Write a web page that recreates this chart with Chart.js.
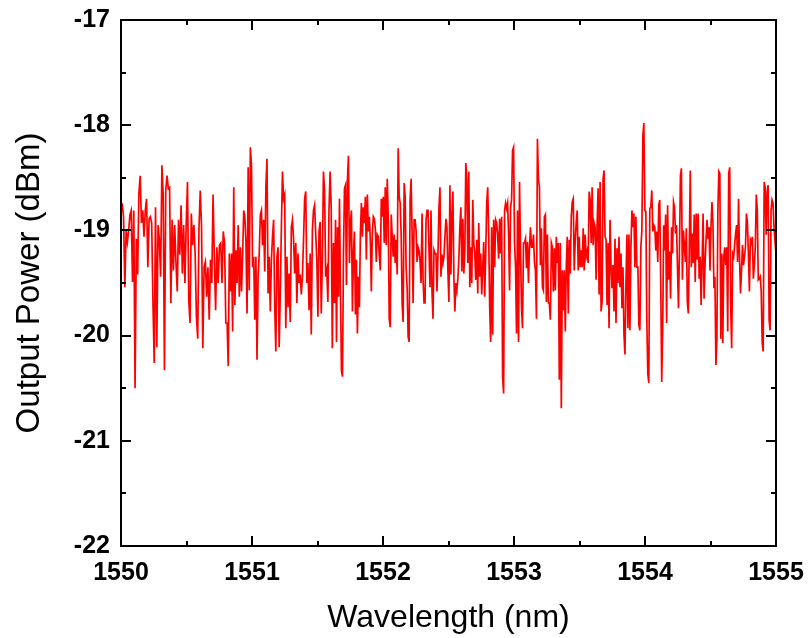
<!DOCTYPE html>
<html>
<head>
<meta charset="utf-8">
<script src="https://cdn.jsdelivr.net/npm/chart.js@4"></script>
<style>
  html, body { margin: 0; padding: 0; background: #fff; }
  #wrap { width: 811px; height: 638px; }
</style>
</head>
<body>
<div id="wrap"><canvas id="grafico" width="811" height="638"></canvas></div>
<script>
// output power (dBm), split by wavelength stretch
const segBounds = [1550, 1550.81, 1551.63, 1552.45, 1553.27, 1554.09, 1555];

const power1 = [-18.78,-18.76,-18.87,-19.54,-19.00,-19.11,-19.00,-18.85,-18.81,-19.49,-18.81,-20.50,-19.08,-19.42,-18.65,-18.48,-18.93,-18.81,-19.06,-18.81,-18.70,-19.35,-18.89,-18.87,-18.93,-19.69,-20.26,-18.78,-20.11,-18.95,-19.09,-19.44,-18.38,-18.66,-20.33,-18.62,-18.48,-18.60,-18.59,-19.69,-18.90,-19.38,-18.95,-19.31,-19.58,-18.90,-19.23,-18.76,-19.41,-18.95,-19.50,-18.95,-18.54,-19.66,-19.88,-18.84,-19.14,-18.95,-19.22,-19.82,-20.03,-18.97,-18.62,-18.97,-20.12,-19.35,-19.30,-19.63,-19.35,-19.85,-19.28,-19.50,-18.66,-19.25,-19.76,-19.16,-19.50,-19.14,-19.12,-19.50,-19.01,-19.12,-19.88];

const power2 = [-19.88,-20.29,-19.22,-19.58,-19.22,-19.96,-18.59,-19.71,-19.19,-19.50,-18.95,-19.63,-19.16,-19.58,-19.23,-18.81,-18.87,-19.11,-19.79,-18.40,-19.57,-18.21,-18.38,-19.35,-19.25,-19.85,-19.25,-20.23,-19.44,-19.22,-18.85,-18.81,-19.14,-18.90,-19.39,-18.59,-18.32,-19.60,-19.25,-19.77,-19.28,-19.06,-18.90,-19.73,-20.15,-19.25,-19.16,-20.11,-19.60,-18.97,-18.44,-18.70,-18.66,-19.93,-19.25,-19.73,-19.41,-19.87,-18.97,-18.90,-19.08,-19.41,-19.12,-19.69,-19.22,-19.50,-19.42,-19.61,-19.44,-19.09,-18.70,-18.63,-19.50,-19.31,-19.76,-19.22,-19.99,-19.00,-18.81,-18.76,-19.03,-19.28,-19.82,-19.01,-18.92,-19.79,-19.28,-18.44,-18.62,-19.44,-19.38,-19.68,-18.81,-18.44,-18.78,-20.12,-19.12];

const power3 = [-19.69,-18.90,-20.06,-18.97,-19.63,-18.70,-19.63,-20.34,-20.39,-19.22,-18.60,-18.57,-19.52,-18.52,-18.29,-19.31,-18.93,-18.81,-19.77,-19.23,-19.01,-19.80,-19.28,-19.98,-19.44,-19.73,-19.03,-18.74,-19.06,-18.78,-18.93,-18.68,-19.28,-18.66,-19.01,-18.87,-19.09,-19.58,-19.03,-18.87,-18.89,-18.98,-19.30,-19.04,-19.06,-19.23,-19.38,-18.70,-18.87,-18.68,-19.12,-18.59,-19.14,-18.51,-18.87,-19.84,-19.92,-18.85,-19.06,-19.25,-19.04,-19.31,-19.09,-19.42,-18.22,-18.68,-18.74,-19.04,-19.71,-19.87,-18.55,-18.68,-19.36,-19.54,-20.01,-20.06,-18.71,-18.51,-19.03,-19.69,-18.90,-18.90,-19.00,-19.30,-19.16,-19.19,-19.30,-19.50,-18.84,-19.46,-19.69,-19.69,-18.90,-18.81,-18.81,-19.19,-19.54,-18.81,-19.58,-19.84,-19.19,-19.22,-19.22,-19.58,-19.23,-18.79,-18.59,-19.44];

const power4 = [-19.23,-19.31,-19.25,-19.06,-18.89,-18.97,-19.39,-19.68,-18.57,-19.42,-18.85,-18.63,-19.44,-19.77,-19.50,-19.57,-19.46,-19.27,-18.97,-18.78,-19.39,-18.89,-19.41,-19.19,-18.36,-18.52,-19.31,-18.44,-19.54,-19.16,-19.50,-18.71,-19.12,-19.22,-19.47,-19.09,-19.60,-18.93,-19.44,-19.22,-19.61,-19.35,-19.11,-19.63,-19.23,-18.74,-18.59,-19.04,-19.73,-20.06,-18.97,-19.99,-18.90,-19.35,-18.90,-18.93,-19.04,-19.27,-18.89,-19.22,-18.87,-20.39,-20.55,-18.81,-18.74,-18.79,-18.74,-19.03,-19.57,-18.78,-18.71,-18.24,-18.21,-19.12,-19.35,-19.98,-18.81,-20.06,-18.54,-19.20,-19.73,-19.93,-19.12,-19.12,-19.08,-19.36,-19.11,-19.50,-19.17,-18.97,-19.16,-19.16,-19.04,-19.30,-19.38,-19.84,-18.13,-18.51,-18.59,-19.33,-18.98,-19.54,-19.57,-18.87,-18.85,-19.68,-19.04,-19.69];

const power5 = [-19.69,-19.85,-19.12,-19.16,-19.58,-19.17,-19.57,-19.06,-19.31,-19.12,-20.42,-19.12,-20.69,-19.38,-19.76,-19.38,-19.96,-19.35,-19.06,-19.79,-19.09,-19.41,-18.87,-18.73,-18.70,-19.38,-19.09,-18.92,-18.81,-19.38,-19.06,-19.35,-19.19,-19.35,-18.98,-19.38,-19.04,-19.25,-19.20,-19.31,-18.63,-18.71,-19.12,-18.59,-19.14,-18.93,-18.97,-19.47,-18.95,-18.60,-19.61,-18.54,-19.77,-19.68,-18.51,-18.43,-19.06,-19.09,-19.71,-19.12,-19.93,-18.90,-19.33,-19.55,-19.33,-19.77,-19.08,-19.88,-19.17,-19.50,-19.06,-19.54,-19.22,-19.74,-19.35,-19.99,-20.18,-19.50,-19.04,-19.93,-19.04,-19.95,-19.16,-18.81,-18.97,-18.84,-19.35,-18.87,-19.35,-19.35,-19.90,-19.95,-19.16,-19.00,-18.10,-17.98,-18.81,-18.82,-19.87,-20.37,-20.45,-18.79,-18.78,-18.62,-19.01,-18.95,-18.97,-19.19];

const power6 = [-19.01,-19.30,-18.76,-18.71,-19.50,-20.44,-19.92,-18.95,-19.19,-18.85,-19.88,-18.76,-19.47,-19.20,-19.65,-18.97,-19.22,-18.73,-18.78,-19.03,-18.95,-19.35,-19.74,-19.19,-18.48,-18.41,-19.47,-19.00,-19.14,-19.30,-18.98,-19.68,-19.79,-19.16,-18.43,-19.35,-19.03,-19.31,-18.85,-19.49,-18.84,-19.28,-18.84,-19.46,-19.25,-19.71,-19.30,-18.84,-19.65,-19.31,-19.09,-18.90,-19.08,-18.97,-19.38,-18.97,-18.73,-18.93,-19.55,-19.44,-20.28,-20.04,-18.81,-18.44,-18.46,-20.03,-19.22,-20.07,-19.25,-19.16,-19.33,-19.16,-19.96,-18.46,-18.40,-19.71,-20.12,-19.22,-19.25,-19.14,-19.03,-18.95,-19.30,-18.70,-19.27,-19.60,-19.38,-19.14,-19.33,-19.25,-19.16,-18.84,-18.93,-19.22,-19.58,-19.09,-19.12,-19.06,-19.46,-19.33,-19.16,-18.66,-18.81,-19.47,-19.46,-19.44,-19.58,-20.07,-20.15,-18.54,-18.59,-19.04,-18.63,-18.57,-19.85,-19.95,-18.81,-18.71,-18.74,-18.98,-19.11,-19.22];

const xTicks = [1550, 1551, 1552, 1553, 1554, 1555];
const yTicks = [-22, -21, -20, -19, -18, -17];

// spread each stretch evenly over its wavelength span
const segmentos = [power1, power2, power3, power4, power5, power6];
const pontos = [];
segmentos.forEach((seg, k) => {
  const a = segBounds[k], b = segBounds[k + 1];
  const last = k === segmentos.length - 1;
  const n = last ? seg.length - 1 : seg.length;
  seg.forEach((v, i) => pontos.push({ x: a + (b - a) * i / n, y: v }));
});

// box frame with inward ticks on all four sides
const moldura = {
  id: 'moldura',
  afterDatasetsDraw(chart) {
    const { ctx, chartArea: ca, scales } = chart;
    const xs = scales.x, ys = scales.y;
    ctx.save();
    ctx.strokeStyle = '#000';
    ctx.lineWidth = 2;
    ctx.strokeRect(ca.left, ca.top, ca.right - ca.left, ca.bottom - ca.top);
    ctx.beginPath();
    for (let v = xTicks[0]; v <= xTicks[xTicks.length - 1] + 1e-9; v += 0.5) {
      const px = Math.round(xs.getPixelForValue(v));
      const len = Number.isInteger(v) ? 10 : 5;
      ctx.moveTo(px, ca.bottom); ctx.lineTo(px, ca.bottom - len);
      ctx.moveTo(px, ca.top); ctx.lineTo(px, ca.top + len);
    }
    for (let v = yTicks[0]; v <= yTicks[yTicks.length - 1] + 1e-9; v += 0.5) {
      const py = Math.round(ys.getPixelForValue(v));
      const len = Number.isInteger(v) ? 10 : 5;
      ctx.moveTo(ca.left, py); ctx.lineTo(ca.left + len, py);
      ctx.moveTo(ca.right, py); ctx.lineTo(ca.right - len, py);
    }
    ctx.stroke();
    ctx.restore();
  }
};

const familia = 'Liberation Sans, Arial, sans-serif';
const fonteTick = { family: familia, size: 25, weight: 'bold' };

new Chart(document.getElementById('grafico').getContext('2d'), {
  type: 'line',
  data: {
    datasets: [{
      data: pontos,
      borderColor: '#ff0000',
      borderWidth: 1.7,
      pointRadius: 0,
      tension: 0,
      fill: false
    }]
  },
  options: {
    responsive: false,
    animation: false,
    layout: { padding: { top: 20, right: 35, left: 0, bottom: 0 } },
    plugins: { legend: { display: false }, tooltip: { enabled: false } },
    scales: {
      x: {
        type: 'linear',
        min: 1550, max: 1555,
        afterBuildTicks: s => { s.ticks = xTicks.map(v => ({ value: v })); },
        afterFit: s => { s.height = 92; s.paddingLeft = 0; s.paddingRight = 0; },
        grid: { display: false, drawTicks: false },
        border: { display: false },
        ticks: { color: '#000', font: fonteTick, padding: 12, maxRotation: 0, callback: v => String(v) },
        title: { display: true, text: 'Wavelength (nm)', color: '#000', font: { family: familia, size: 32 }, padding: { top: 4, bottom: 1 } }
      },
      y: {
        min: -22, max: -17,
        afterBuildTicks: s => { s.ticks = yTicks.map(v => ({ value: v })); },
        afterFit: s => { s.width = 121; s.paddingTop = 0; s.paddingBottom = 0; },
        grid: { display: false, drawTicks: false },
        border: { display: false },
        ticks: { color: '#000', font: fonteTick, padding: 11, callback: v => String(v) },
        title: { display: true, text: 'Output Power (dBm)', color: '#000', font: { family: familia, size: 33 }, padding: { top: 10, bottom: 4 } }
      }
    }
  },
  plugins: [moldura]
});
</script>
</body>
</html>
